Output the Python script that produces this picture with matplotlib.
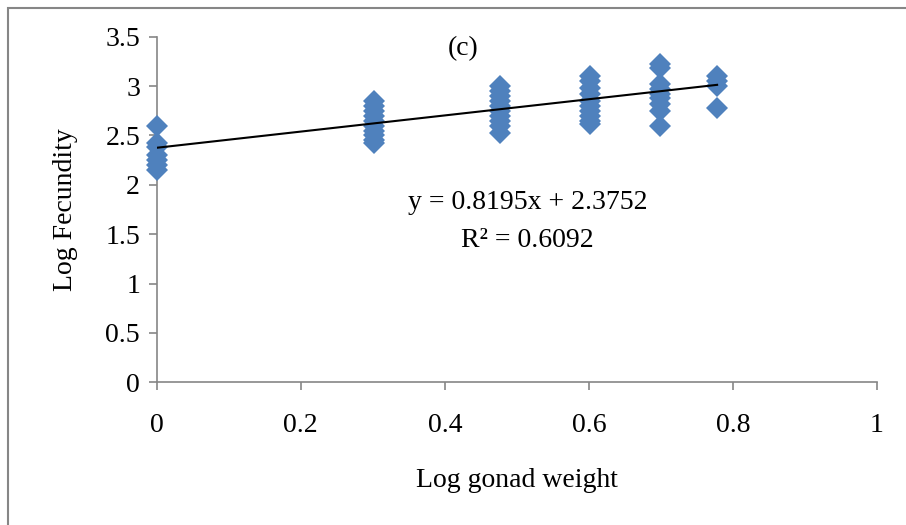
import matplotlib.pyplot as plt
from matplotlib.patches import Rectangle

plt.rcParams['font.family'] = ['Liberation Serif', 'DejaVu Serif']

# log gonad weight groups and log fecundity readings
x0 = [0.0] * 7
y0 = [2.6, 2.42, 2.38, 2.3, 2.25, 2.2, 2.15]
x1 = [0.301] * 10
y1 = [2.85, 2.8, 2.75, 2.7, 2.65, 2.6, 2.55, 2.5, 2.45, 2.42]
x2 = [0.477] * 10
y2 = [3.0, 2.95, 2.9, 2.85, 2.8, 2.75, 2.7, 2.65, 2.6, 2.52]
x3 = [0.602] * 10
y3 = [3.1, 3.05, 2.98, 2.92, 2.85, 2.8, 2.75, 2.7, 2.65, 2.62]
x4 = [0.699] * 9
y4 = [3.22, 3.18, 3.02, 2.97, 2.92, 2.88, 2.82, 2.75, 2.6]
x5 = [0.778] * 4
y5 = [3.1, 3.05, 3.0, 2.78]

xs = x0 + x1 + x2 + x3 + x4 + x5
ys = y0 + y1 + y2 + y3 + y4 + y5

slope, intercept = 0.8195, 2.3752
fit_x = [0.0, 0.778]

fig = plt.figure(figsize=(9.06, 5.25), dpi=100)
ax = fig.add_axes([0.173, 0.272, 0.795, 0.658])

ax.plot(xs, ys, 'D', color='#4F81BD', markersize=11.5, markeredgewidth=0, clip_on=False, zorder=3)
ax.plot(fit_x, [slope * v + intercept for v in fit_x], color='black', lw=1.5, zorder=4)

ax.set_xlim(0, 1)
ax.set_ylim(0, 3.5)
ax.set_xticks([0, 0.2, 0.4, 0.6, 0.8, 1])
ax.set_xticklabels(['0', '0.2', '0.4', '0.6', '0.8', '1'])
ax.set_yticks([0, 0.5, 1, 1.5, 2, 2.5, 3, 3.5])
ax.set_yticklabels(['0', '0.5', '1', '1.5', '2', '2.5', '3', '3.5'])
for s in ['top', 'right']:
    ax.spines[s].set_visible(False)
for s in ['left', 'bottom']:
    ax.spines[s].set_color('#868686')
    ax.spines[s].set_linewidth(1.2)
ax.tick_params(axis='both', colors='#868686', labelcolor='black', labelsize=20, length=6, width=1.2)
ax.tick_params(axis='x', pad=16)
ax.tick_params(axis='y', pad=6)

ax.set_xlabel('Log gonad weight', fontsize=20, labelpad=22)
ax.set_ylabel('Log Fecundity', fontsize=20, labelpad=20)

ax.text(0.425, 3.38, '(c)', fontsize=20, ha='center', va='center')
ax.text(0.515, 1.82, 'y = 0.8195x + 2.3752', fontsize=20, ha='center', va='center')
ax.text(0.515, 1.44, 'R² = 0.6092', fontsize=20, ha='center', va='center')

fig.patches.append(Rectangle((0.009, -0.05), 1.1, 1.035, transform=fig.transFigure,
                             fill=False, edgecolor='#868686', lw=1.5))

fig.savefig('out.png', dpi=100)
